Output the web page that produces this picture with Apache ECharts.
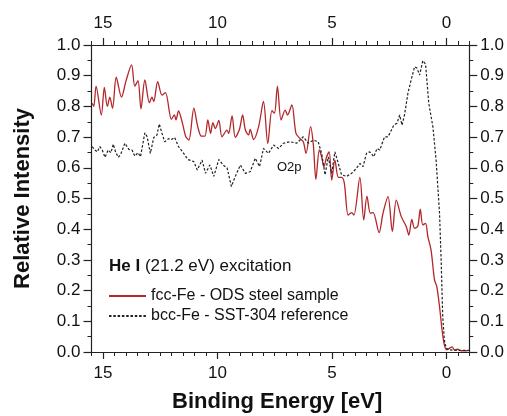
<!DOCTYPE html>
<html>
<head>
<meta charset="utf-8">
<script src="https://cdn.jsdelivr.net/npm/echarts@6/dist/echarts.min.js"></script>
<style>
html, body { margin: 0; padding: 0; background: #fff; }
#chart { width: 507px; height: 416px; }
</style>
</head>
<body>
<div id="chart"></div>
<script>
// fcc-Fe - ODS steel sample (red solid)
var fccEnergy = [15.47, 15.40, 15.30, 15.07, 14.94, 14.81, 14.70, 14.58, 14.42, 14.19, 13.99, 13.75, 13.61, 13.47, 13.34, 13.17,
    12.97, 12.86, 12.78, 12.61, 12.42, 12.27, 12.01, 11.88, 11.81, 11.70, 11.52, 11.39, 11.25, 11.03, 10.86, 10.70,
    10.55, 10.42, 10.30, 10.20, 10.09, 9.94, 9.80, 9.58, 9.51, 9.36, 9.22, 9.04, 8.90, 8.78, 8.64, 8.57,
    8.42, 8.20, 7.99, 7.80, 7.62, 7.51, 7.38, 7.22, 7.04, 6.94, 6.75, 6.57, 6.39, 6.25, 6.13, 5.93,
    5.81, 5.70, 5.55, 5.45, 5.35, 5.23, 5.12, 5.01, 4.87, 4.72, 4.58, 4.46, 4.29, 4.14, 4.04, 3.78,
    3.61, 3.47, 3.32, 3.20, 2.94, 2.77, 2.55, 2.36, 2.19, 1.97, 1.75, 1.64, 1.51, 1.39, 1.25, 1.14,
    1.03, 0.91, 0.81, 0.67, 0.52, 0.42, 0.30, 0.19, 0.09, -0.01, -0.13, -0.25, -0.35, -0.49, -0.64, -0.93];
var fccIntensity = [0.810, 0.800, 0.866, 0.772, 0.862, 0.800, 0.830, 0.794, 0.895, 0.830, 0.884, 0.935, 0.866, 0.884, 0.792, 0.886,
    0.812, 0.830, 0.816, 0.881, 0.837, 0.845, 0.758, 0.772, 0.756, 0.785, 0.743, 0.703, 0.690, 0.794, 0.734, 0.703,
    0.703, 0.756, 0.712, 0.747, 0.728, 0.754, 0.701, 0.723, 0.712, 0.769, 0.699, 0.725, 0.772, 0.723, 0.707, 0.725,
    0.692, 0.734, 0.816, 0.679, 0.786, 0.778, 0.866, 0.756, 0.788, 0.772, 0.805, 0.712, 0.695, 0.685, 0.647, 0.734,
    0.674, 0.562, 0.658, 0.636, 0.603, 0.636, 0.652, 0.560, 0.625, 0.569, 0.569, 0.551, 0.446, 0.454, 0.446, 0.569,
    0.430, 0.508, 0.452, 0.454, 0.389, 0.452, 0.506, 0.392, 0.495, 0.441, 0.408, 0.381, 0.432, 0.403, 0.410, 0.465,
    0.414, 0.419, 0.376, 0.332, 0.235, 0.213, 0.148, 0.072, 0.023, 0.007, 0.012, 0.017, 0.007, 0.009, 0.004, 0.004];

// bcc-Fe - SST-304 reference (black dotted)
var bccEnergy = [15.47, 15.35, 15.25, 15.14, 15.03, 14.91, 14.77, 14.65, 14.55, 14.45, 14.33, 14.22, 14.04, 13.87, 13.73, 13.61,
    13.47, 13.36, 13.17, 13.07, 12.93, 12.78, 12.64, 12.54, 12.42, 12.30, 12.13, 12.01, 11.87, 11.70, 11.52, 11.29,
    11.03, 10.88, 10.67, 10.52, 10.33, 10.16, 9.94, 9.75, 9.58, 9.39, 9.22, 9.00, 8.78, 8.57, 8.35, 8.16,
    7.99, 7.77, 7.55, 7.33, 7.12, 6.83, 6.54, 6.25, 6.03, 5.81, 5.60, 5.45, 5.30, 5.16, 5.01, 4.87,
    4.72, 4.58, 4.36, 4.14, 3.93, 3.78, 3.64, 3.49, 3.35, 3.17, 3.03, 2.91, 2.70, 2.55, 2.40, 2.30,
    2.16, 2.04, 1.94, 1.83, 1.68, 1.54, 1.39, 1.29, 1.17, 1.03, 0.91, 0.77, 0.59, 0.45, 0.30, 0.23,
    0.16, 0.09, 0.01, -0.13, -0.50, -1.00];
var bccIntensity = [0.669, 0.658, 0.652, 0.669, 0.658, 0.634, 0.658, 0.649, 0.677, 0.652, 0.634, 0.645, 0.680, 0.660, 0.658, 0.638,
    0.649, 0.636, 0.714, 0.701, 0.647, 0.699, 0.707, 0.743, 0.712, 0.685, 0.695, 0.692, 0.699, 0.669, 0.652, 0.627,
    0.620, 0.593, 0.625, 0.582, 0.609, 0.572, 0.627, 0.609, 0.600, 0.539, 0.572, 0.609, 0.582, 0.587, 0.631, 0.604,
    0.663, 0.647, 0.674, 0.663, 0.680, 0.685, 0.680, 0.701, 0.680, 0.690, 0.685, 0.647, 0.577, 0.636, 0.582, 0.652,
    0.614, 0.577, 0.572, 0.582, 0.598, 0.614, 0.604, 0.647, 0.652, 0.636, 0.663, 0.658, 0.701, 0.701, 0.723, 0.739,
    0.745, 0.772, 0.739, 0.772, 0.843, 0.886, 0.929, 0.925, 0.902, 0.949, 0.938, 0.810, 0.734, 0.625, 0.452, 0.300,
    0.115, 0.039, 0.012, 0.007, 0.005, 0.005];

var xMajorTicks = [15, 10, 5, 0];
var seriesNames = ['fcc-Fe - ODS steel sample', 'bcc-Fe - SST-304 reference'];

var chart = echarts.init(document.getElementById('chart'));
var font = '"Liberation Sans", Arial, sans-serif';
var axisColor = '#222';

function pairs(xs, ys) {
    return xs.map(function (x, i) { return [x, ys[i]]; });
}

function xAxisFor(pos, major) {
    return {
        type: 'value',
        position: pos,
        min: -1,
        max: 15.5,
        inverse: true,
        interval: major ? undefined : 0.5,
        axisLine: { show: major, onZero: false, lineStyle: { color: axisColor, width: 1.2 } },
        axisTick: major
            ? { show: true, customValues: xMajorTicks, length: 7, lineStyle: { color: axisColor, width: 1.2 } }
            : { show: true, length: 4, lineStyle: { color: axisColor, width: 1 } },
        axisLabel: major
            ? { show: true, customValues: xMajorTicks, margin: 13, color: '#111', fontSize: 17, fontFamily: font }
            : { show: false },
        splitLine: { show: false }
    };
}

function yAxisFor(pos) {
    return {
        type: 'value',
        position: pos,
        min: 0,
        max: 1,
        interval: 0.1,
        name: pos === 'left' ? 'Relative Intensity' : '',
        nameLocation: 'middle',
        nameGap: 58,
        nameTextStyle: { fontSize: 22, fontWeight: 'bold', color: '#111', fontFamily: font },
        axisLine: { show: true, onZero: false, lineStyle: { color: axisColor, width: 1.2 } },
        axisTick: { show: true, length: 8, lineStyle: { color: axisColor, width: 1.2 } },
        minorTick: { show: true, splitNumber: 2, length: 4, lineStyle: { color: axisColor, width: 1 } },
        axisLabel: {
            margin: 11,
            color: '#111', fontSize: 17, fontFamily: font,
            formatter: function (v) { return v.toFixed(1); }
        },
        splitLine: { show: false },
        minorSplitLine: { show: false }
    };
}

var option = {
    backgroundColor: '#fff',
    animation: false,
    grid: { left: 91.5, right: 37.7, top: 45, bottom: 64, containLabel: false },
    xAxis: [xAxisFor('bottom', true), xAxisFor('top', true), xAxisFor('bottom', false), xAxisFor('top', false)],
    yAxis: [yAxisFor('left'), yAxisFor('right')],
    legend: {
        orient: 'vertical',
        left: 108,
        top: 288,
        itemWidth: 37,
        itemHeight: 10,
        itemGap: 4,
        padding: 0,
        itemStyle: { opacity: 0 },
        textStyle: { fontSize: 16, color: '#111', fontFamily: font },
        data: seriesNames
    },
    graphic: [
        {
            type: 'text', left: 109, top: 258,
            style: {
                text: '{b|He I} (21.2 eV) excitation',
                fontSize: 17, fontFamily: font, fill: '#111',
                rich: { b: { fontWeight: 'bold', fontSize: 17, fontFamily: font, fill: '#111' } }
            }
        },
        {
            type: 'text', left: 277, top: 161,
            style: { text: 'O2p', fontSize: 13, fontFamily: font, fill: '#111' }
        },
        {
            type: 'text', left: 172, top: 391,
            style: { text: 'Binding Energy [eV]', fontSize: 22, fontWeight: 'bold', fontFamily: font, fill: '#111' }
        }
    ],
    series: [
        {
            name: seriesNames[0],
            type: 'line',
            xAxisIndex: 0,
            data: pairs(fccEnergy, fccIntensity),
            symbol: 'none',
            smooth: 0.3,
            itemStyle: { color: '#b3262a' },
            lineStyle: { color: '#b3262a', width: 1.3 }
        },
        {
            name: seriesNames[1],
            type: 'line',
            xAxisIndex: 0,
            data: pairs(bccEnergy, bccIntensity),
            symbol: 'none',
            itemStyle: { color: '#222' },
            lineStyle: { color: '#222', width: 1.2, type: [2.5, 1.8] }
        }
    ]
};

chart.setOption(option);
</script>
</body>
</html>
